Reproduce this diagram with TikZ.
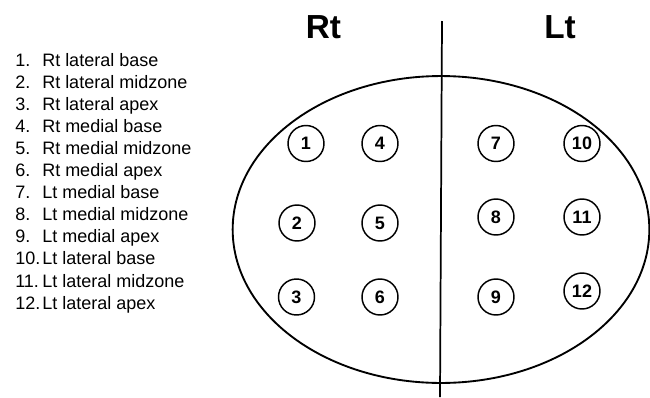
\documentclass[tikz,border=0pt]{standalone}
\usepackage{fontspec}
\setmainfont{Liberation Sans}
\usetikzlibrary{shapes.geometric}
\begin{document}
\begin{tikzpicture}[x=0.75pt,y=-0.75pt,
  listtext/.style={anchor=base west,inner sep=0pt,font=\fontsize{13.5}{16}\selectfont},
  side/.style={anchor=base,inner sep=0pt,font=\fontsize{25}{30}\selectfont\bfseries},
  zone/.style={circle,draw,line width=1.1pt,minimum size=27pt,inner sep=0pt,
    font=\fontsize{13.5}{16}\selectfont\bfseries},
  outline/.style={ellipse,draw,line width=1.4pt,minimum width=312.5pt,minimum height=230.2pt,inner sep=0pt}]
\useasboundingbox (0,0) rectangle (650,397);
\fill[white] (0,0) rectangle (650,397);
% legend
\foreach \i/\t in {1/Rt lateral base,2/Rt lateral midzone,3/Rt lateral apex,
  4/Rt medial base,5/Rt medial midzone,6/Rt medial apex,
  7/Lt medial base,8/Lt medial midzone,9/Lt medial apex,
  10/Lt lateral base,11/Lt lateral midzone,12/Lt lateral apex}{
  \node[listtext] (num\i) at (15,{66+22.1*(\i-1)}) {\i.};
  \node[listtext] (lab\i) at (42,{66+22.1*(\i-1)}) {\t};
}
% headings
\node[side] (rt) at (323.5,38.5) {Rt};
\node[side] (lt) at (560,38.5) {Lt};
% outline and midline
\node[outline] (chest) at (441,229.5) {};
\coordinate (mtop) at (442,21);
\coordinate (mbot) at (440,397);
\draw[line width=1.3pt] (mtop) -- (mbot);
% zones
\node[zone] (z1) at (306,143.5) {1};
\node[zone] (z2) at (297,223) {2};
\node[zone] (z3) at (296.5,297) {3};
\node[zone] (z4) at (380,143.5) {4};
\node[zone] (z5) at (380,223) {5};
\node[zone] (z6) at (380,297) {6};
\node[zone] (z7) at (496,143.5) {7};
\node[zone] (z8) at (496,217) {8};
\node[zone] (z9) at (496,297) {9};
\node[zone] (z10) at (582,143.5) {10};
\node[zone] (z11) at (582,217) {11};
\node[zone] (z12) at (582,291) {12};
\end{tikzpicture}
\end{document}
